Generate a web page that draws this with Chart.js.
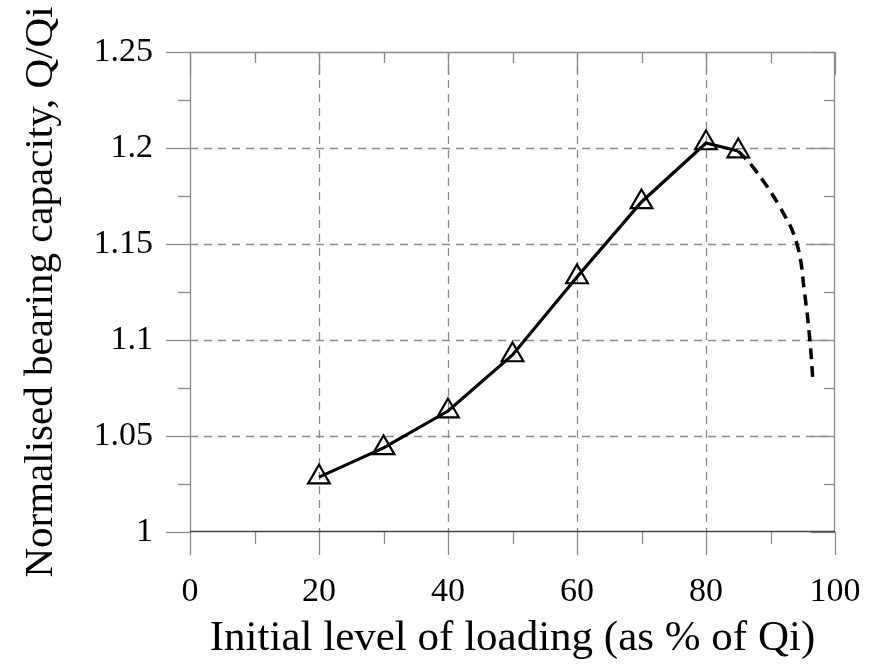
<!DOCTYPE html>
<html>
<head>
<meta charset="utf-8">
<title>Normalised bearing capacity</title>
<script src="https://cdn.jsdelivr.net/npm/chart.js@4.4.0/dist/chart.umd.min.js"></script>
<style>
    html, body { margin: 0; padding: 0; background: #fff; }
    #wrap { width: 877px; height: 665px; }
</style>
</head>
<body>
<div id="wrap"><canvas id="capacityChart" width="877" height="665"></canvas></div>
<script>
// measured points (triangles)
const loadLevels = [20, 30, 40, 50, 60, 70, 80, 85];
const capacity = [1.0286, 1.0438, 1.063, 1.0922, 1.1328, 1.1719, 1.2026, 1.1984];

// dashed extrapolation beyond the last test
const extLevels = [85, 87.3, 91.5, 94.1, 95.3, 96.1, 96.6];
const extCapacity = [1.1984, 1.190, 1.169, 1.150, 1.124, 1.100, 1.078];

// axis ticks
const xMajorTicks = [0, 20, 40, 60, 80, 100];
const xMinorTicks = [10, 30, 50, 70, 90];
const yMajorTicks = [1, 1.05, 1.1, 1.15, 1.2, 1.25];
const yMinorTicks = [1.025, 1.075, 1.125, 1.175, 1.225];

const serif = '"Liberation Serif", "DejaVu Serif", serif';

// grid, frame and tick marks drawn like the original figure
const frameAndGrid = {
    id: 'frameAndGrid',
    beforeDatasetsDraw(chart) {
        const ctx = chart.ctx;
        const x = chart.scales.x;
        const y = chart.scales.y;
        const {left, right, top, bottom} = chart.chartArea;

        ctx.save();
        ctx.lineWidth = 1.3;
        ctx.strokeStyle = '#8a8a8a';

        // dashed grid
        ctx.setLineDash([8, 6]);
        xMajorTicks.slice(1, -1).forEach(v => {
            const px = Math.round(x.getPixelForValue(v)) + 0.5;
            ctx.beginPath();
            ctx.moveTo(px, top);
            ctx.lineTo(px, bottom);
            ctx.stroke();
        });
        yMajorTicks.slice(1, -1).forEach(v => {
            const py = Math.round(y.getPixelForValue(v)) + 0.5;
            ctx.beginPath();
            ctx.moveTo(left, py);
            ctx.lineTo(right, py);
            ctx.stroke();
        });
        ctx.setLineDash([]);

        const seg = (x1, y1, x2, y2) => {
            ctx.beginPath();
            ctx.moveTo(x1, y1);
            ctx.lineTo(x2, y2);
            ctx.stroke();
        };

        // x tick marks: outward at bottom, inward at top
        xMajorTicks.forEach(v => {
            const px = Math.round(x.getPixelForValue(v)) + 0.5;
            seg(px, bottom, px, bottom + 23);
            seg(px, top, px, top + 23);
        });
        xMinorTicks.forEach(v => {
            const px = Math.round(x.getPixelForValue(v)) + 0.5;
            seg(px, bottom, px, bottom + 12);
            seg(px, top, px, top + 11);
        });

        // y tick marks: outward at left, inward at right
        yMajorTicks.forEach(v => {
            const py = Math.round(y.getPixelForValue(v)) + 0.5;
            seg(left - 24, py, left, py);
            seg(right - 24, py, right, py);
        });
        yMinorTicks.forEach(v => {
            const py = Math.round(y.getPixelForValue(v)) + 0.5;
            seg(left - 12, py, left, py);
            seg(right - 11, py, right, py);
        });

        // frame
        seg(left + 0.5, top, left + 0.5, bottom);
        seg(right - 0.5, top, right - 0.5, bottom);
        seg(left, top + 0.5, right, top + 0.5);
        ctx.strokeStyle = '#444';
        seg(left, bottom - 0.5, right, bottom - 0.5);

        ctx.restore();
    }
};

// fixed axis box sizes, no extra room for overhanging labels
function fixBox(s, w, h) {
    if (w) s.width = w;
    if (h) s.height = h;
    s.paddingLeft = 0;
    s.paddingRight = 0;
    s.paddingTop = 0;
    s.paddingBottom = 0;
}

const ctx = document.getElementById('capacityChart').getContext('2d');

new Chart(ctx, {
    type: 'scatter',
    data: {
        datasets: [
            {
                label: 'Test results',
                data: loadLevels.map((v, i) => ({x: v, y: capacity[i]})),
                showLine: true,
                borderColor: '#000',
                borderWidth: 3.2,
                pointStyle: 'triangle',
                pointRadius: 12.5,
                pointBorderWidth: 2.2,
                pointBorderColor: '#000',
                pointBackgroundColor: 'rgba(0,0,0,0)',
                tension: 0
            },
            {
                label: 'Extrapolated',
                data: extLevels.map((v, i) => ({x: v, y: extCapacity[i]})),
                showLine: true,
                borderColor: '#000',
                borderWidth: 3.5,
                borderDash: [11, 7],
                pointRadius: 0,
                tension: 0.4
            }
        ]
    },
    options: {
        responsive: false,
        animation: false,
        devicePixelRatio: 1,
        layout: {
            padding: {left: 0, right: 42, top: 52, bottom: 0}
        },
        plugins: {
            legend: {display: false},
            tooltip: {enabled: false}
        },
        scales: {
            x: {
                type: 'linear',
                min: 0,
                max: 100,
                afterFit: s => fixBox(s, 0, 133),
                grid: {display: false},
                border: {display: false},
                ticks: {
                    stepSize: 20,
                    padding: 32,
                    maxRotation: 0,
                    color: '#000',
                    font: {family: serif, size: 34}
                },
                title: {
                    display: true,
                    text: 'Initial level of loading (as % of Qi)',
                    color: '#000',
                    font: {family: serif, size: 43},
                    padding: {top: 0, bottom: 0}
                }
            },
            y: {
                type: 'linear',
                min: 1,
                max: 1.25,
                afterFit: s => fixBox(s, 190, 0),
                grid: {display: false},
                border: {display: false},
                ticks: {
                    stepSize: 0.05,
                    padding: 29,
                    color: '#000',
                    font: {family: serif, size: 34},
                    callback: v => Number(v.toFixed(2)).toString()
                },
                title: {
                    display: true,
                    text: 'Normalised bearing capacity, Q/Qi',
                    color: '#000',
                    font: {family: serif, size: 41},
                    padding: {top: 17, bottom: 0}
                }
            }
        }
    },
    plugins: [frameAndGrid]
});
</script>
</body>
</html>
